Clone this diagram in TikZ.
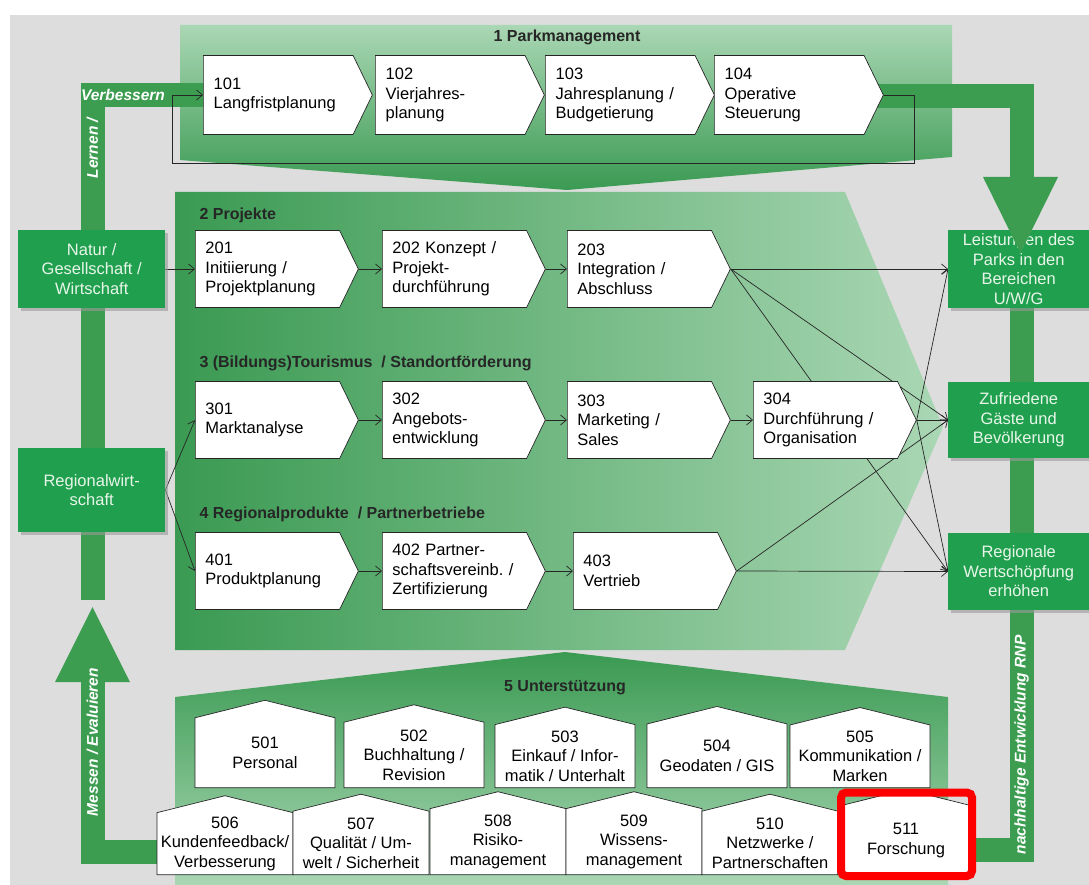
\documentclass[tikz,border=0pt]{standalone}
\usepackage{fontspec}
\setmainfont{Liberation Sans}
\usetikzlibrary{shapes.symbols,arrows.meta,shadows}

\definecolor{bggray}{RGB}{221,221,221}
\definecolor{paneldark}{RGB}{58,154,82}
\definecolor{panellight}{RGB}{170,215,180}
\definecolor{bandgreen}{RGB}{60,157,80}
\definecolor{boxgreen}{RGB}{32,160,78}
\definecolor{boxtext}{RGB}{232,246,234}

\newcommand{\boxfont}{\fontsize{16.5}{19.5}\selectfont}
\newcommand{\headfont}{\fontsize{16}{19}\selectfont\bfseries}
\newcommand{\bandfont}{\fontsize{15.5}{18}\selectfont\bfseries\itshape}

\pgfdeclarelayer{panels}
\pgfdeclarelayer{links}
\pgfsetlayers{panels,links,main}

\tikzset{
  chev/.style={signal, signal to=east, signal pointer angle=128, draw=black!85,
    line width=0.7pt, fill=white, minimum width=163pt, minimum height=77pt,
    text width=124pt, align=left, inner sep=0pt, anchor=west, font=\boxfont},
  house/.style={signal, signal to=north, signal pointer angle=152, draw=black!85,
    line width=0.7pt, fill=white, minimum width=140pt, minimum height=78pt,
    align=center, inner sep=0pt, anchor=south, font=\boxfont},
  gbox/.style={rectangle, fill=boxgreen, text=boxtext, minimum width=147pt,
    minimum height=77pt, align=center, inner sep=0pt, anchor=west, font=\boxfont,
    drop shadow={shadow xshift=3pt, shadow yshift=-3pt, fill=black!40, opacity=0.6}},
  head/.style={font=\headfont, text=black!85},
  band/.style={draw=bandgreen, line width=24pt},
  bandtext/.style={text=white, font=\bandfont},
  conn/.style={-{Straight Barb[length=6pt,width=10pt]}, line width=0.7pt, draw=black!85}
}

\begin{document}
\begin{tikzpicture}[x=1pt,y=-1pt]
    \useasboundingbox (0,0) rectangle (1089,885);

    \begin{pgfonlayer}{panels}
    % Background and section panels
    \fill[white] (0,0) rectangle (1089,885);
    \fill[bggray] (10,15) rectangle (1089,885);
    \shade[top color=panellight, bottom color=paneldark]
        (180,25) -- (952,25) -- (952,157) -- (567,190) -- (180,160) -- cycle;
    \shade[left color=paneldark, right color=panellight]
        (175,192) -- (845,192) -- (943,427) -- (845,650) -- (175,650) -- cycle;
    \shade[top color=paneldark, bottom color=panellight]
        (175,697) -- (565,652) -- (948,697) -- (948,885) -- (175,885) -- cycle;

    % Feedback bands
    \draw[band] (210,95) -- (92.5,95) -- (92.5,600);
    \draw[band] (170,852) -| (92.5,681);
    \fill[bandgreen] (55,682) -- (130,682) -- (92.5,607) -- cycle;
    \draw[band] (870,96.5) -| (1021.5,178);
    \draw[band] (1021.5,300) |- (960,850);
    \end{pgfonlayer}

    % Section headers
    \node[head] (h1) at (567,37) {1 Parkmanagement};
    \node[head, anchor=west] (h2) at (196,215) {2 Projekte};
    \node[head, anchor=west] (h3) at (196,363) {3 (Bildungs)Tourismus~ / Standortförderung};
    \node[head, anchor=west] (h4) at (196,514) {4 Regionalprodukte~ / Partnerbetriebe};
    \node[head] (h5) at (565,688) {5 Unterstützung};

    % Parkmanagement
    \foreach \i/\x/\txt in {101/203/{101\\Langfristplanung}, 102/375/{102\\Vierjahres-\\planung},
        103/545/{103\\Jahresplanung /\\Budgetierung}, 104/714/{104\\Operative\\Steuerung}}
        \node[chev, minimum width=169pt, minimum height=79pt, text width=129pt] (b\i) at (\x,95) {\txt};

    % Projekte, Tourismus, Regionalprodukte
    \foreach \i/\x/\y/\txt in {201/195/269/{201\\Initiierung /\\Projektplanung},
        202/382/269/{202 Konzept /\\Projekt-\\durchführung}, 203/567/269/{203\\Integration /\\Abschluss},
        301/195/420/{301\\Marktanalyse}, 302/382/420/{302\\Angebots-\\entwicklung},
        303/567/420/{303\\Marketing /\\Sales}, 304/753/420/{304\\Durchführung /\\Organisation},
        401/195/571/{401\\Produktplanung}, 402/382/571/{402 Partner-\\schaftsvereinb.\ /\\Zertifizierung},
        403/573/571/{403\\Vertrieb}}
        \node[chev] (b\i) at (\x,\y) {\txt};

    % Unterstuetzung
    \foreach \i/\x/\txt in {501/265/{501\\Personal}, 502/414/{502\\Buchhaltung /\\Revision},
        503/565/{503\\Einkauf / Infor-\\matik / Unterhalt}, 504/717/{504\\Geodaten / GIS},
        505/860/{505\\Kommunikation /\\Marken}}
        \node[house] (b\i) at (\x,788) {\txt};
    \foreach \i/\x/\txt in {506/225/{506\\Kundenfeedback/\\Verbesserung},
        507/361/{507\\Qualität / Um-\\welt / Sicherheit}, 508/498/{508\\Risiko-\\management},
        509/634/{509\\Wissens-\\management}, 510/770/{510\\Netzwerke /\\Partnerschaften},
        511/906/{511\\Forschung}}
        \node[house, minimum width=136pt] (b\i) at (\x,875) {\txt};

    % Outer boxes
    \node[gbox] (natur) at (18,269) {Natur /\\Gesellschaft /\\Wirtschaft};
    \node[gbox, minimum height=84pt] (regio) at (18,490) {Regionalwirt-\\schaft};
    \node[gbox, minimum width=141pt, minimum height=78pt] (leist) at (948,269)
        {Leistungen des\\Parks in den\\Bereichen\\U/W/G};
    \node[gbox, minimum width=141pt, minimum height=76pt] (zuf) at (948,420)
        {Zufriedene\\Gäste und\\Bevölkerung};
    \node[gbox, minimum width=141pt] (reg) at (948,571.5)
        {Regionale\\Wertschöpfung\\erhöhen};
    \fill[bandgreen] (983,177) -- (1058,177) -- (1020.5,253) -- cycle;

    % Band labels
    \node[bandtext] (verb) at (123,95) {Verbessern};
    \node[bandtext, rotate=90] (lern) at (92.5,148) {Lernen /};
    \node[bandtext, rotate=90] (mess) at (92.5,742) {Messen / Evaluieren};
    \node[bandtext, rotate=90] (rnp) at (1021.5,745) {nachhaltige Entwicklung RNP};

    % Connectors
    \begin{pgfonlayer}{links}
    \draw[conn] (natur.east) -- (b201.west);
    \draw[conn] (regio.east) -- (b301.west);
    \draw[conn] (regio.east) -- (b401.west);
    \foreach \a/\b in {201/202, 202/203, 301/302, 302/303, 303/304, 401/402, 402/403}
        \draw[conn] (b\a.east) -- (b\b.west);
    \foreach \a/\b in {203/leist, 203/zuf, 203/reg, 304/leist, 304/zuf, 304/reg, 403/zuf, 403/reg}
        \draw[conn] (b\a.east) -- (\b.west);
    \draw[conn] (b104.east) -| ++(31,68) -| ([xshift=-31pt]b101.west) -- (b101.west);
    \end{pgfonlayer}

    % Highlight
    \draw[red, line width=8pt, rounded corners=5pt] (841,792.5) rectangle (972,876);
\end{tikzpicture}
\end{document}
